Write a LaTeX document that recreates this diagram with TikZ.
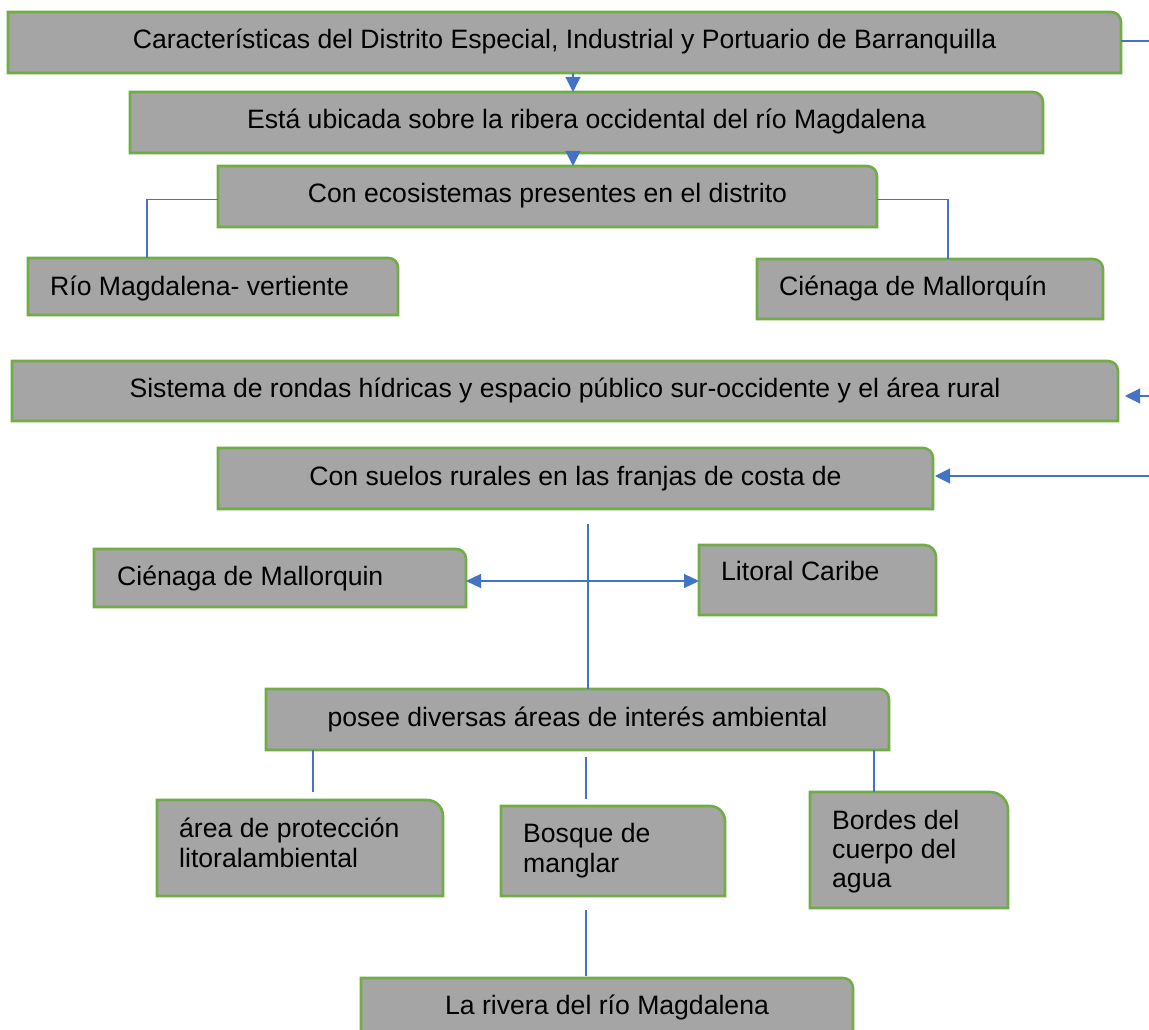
\documentclass[tikz,border=0pt]{standalone}
\usepackage{fontspec}
\setmainfont{Liberation Sans}
\usetikzlibrary{arrows.meta,backgrounds,calc}
\definecolor{boxgray}{HTML}{A5A5A5}
\definecolor{boxgreen}{HTML}{70AD47}
\definecolor{connblue}{HTML}{4472C4}
\newcommand\rshape[2]{%
  \path[boxshape] (#1.south west) -- (#1.north west) -- ([xshift=-#2pt]#1.north east)
    .. controls ([xshift=-0.45*#2pt]#1.north east) and ([yshift=-0.45*#2pt]#1.north east) ..
    ([yshift=-#2pt]#1.north east) -- (#1.south east) -- cycle;}
\tikzset{
  boxshape/.style={fill=boxgray, draw=boxgreen, line width=2.6pt},
  cbox/.style={rectangle, inner sep=0pt, outer sep=0pt, anchor=north west, text height=19pt, text depth=6pt},
  lbox/.style={rectangle, inner sep=0pt, outer sep=0pt, anchor=north west},
  btext/.style={inner sep=0pt, anchor=base west},
  conn/.style={draw=connblue, line width=1.1pt},
  arr/.style={conn, -{Triangle[length=15pt,width=15pt]}},
  darr/.style={conn, {Triangle[length=15pt,width=14pt]}-{Triangle[length=15pt,width=14pt]}},
}
\begin{document}
\begin{tikzpicture}[x=1pt, y=1pt, font=\fontsize{26.6}{30}\selectfont]
\useasboundingbox (0,0) rectangle (1149,-1030);
% boxes
\node[cbox, minimum width=1113pt, minimum height=61pt] (b1) at (8,-12) {Características del Distrito Especial, Industrial y Portuario de Barranquilla};
\node[cbox, minimum width=913pt, minimum height=61pt] (b2) at (130,-92) {Está ubicada sobre la ribera occidental del río Magdalena};
\node[cbox, minimum width=659pt, minimum height=61pt] (b3) at (218,-166) {Con ecosistemas presentes en el distrito};
\node[lbox, minimum width=370pt, minimum height=57pt] (rio) at (28,-258) {};
\node[btext] (riot) at (50,-295) {Río Magdalena- vertiente};
\node[lbox, minimum width=346pt, minimum height=60pt] (cien1) at (757,-259) {};
\node[btext] (cien1t) at (779,-295) {Ciénaga de Mallorquín};
\node[cbox, minimum width=1106pt, minimum height=60pt] (sis) at (12,-361) {Sistema de rondas hídricas y espacio público sur-occidente y el área rural};
\node[cbox, minimum width=715pt, minimum height=61pt] (suelos) at (218,-448) {Con suelos rurales en las franjas de costa de};
\node[lbox, minimum width=372pt, minimum height=58pt] (cien2) at (94,-549) {};
\node[btext] (cien2t) at (117,-585) {Ciénaga de Mallorquin};
\node[lbox, minimum width=237pt, minimum height=70pt] (lit) at (699,-545) {};
\node[btext] (litt) at (721,-580) {Litoral Caribe};
\node[cbox, minimum width=623pt, minimum height=61pt] (posee) at (266,-689) {posee diversas áreas de interés ambiental};
\node[lbox, minimum width=286pt, minimum height=96pt] (area) at (157,-800) {};
\node[btext] (areat) at (179,-837) {\begin{tabular}[t]{@{}l@{}}área de protección\\litoralambiental\end{tabular}};
\node[lbox, minimum width=224pt, minimum height=90pt] (bosque) at (501,-806) {};
\node[btext] (bosquet) at (523,-842) {\begin{tabular}[t]{@{}l@{}}Bosque de\\manglar\end{tabular}};
\node[lbox, minimum width=198pt, minimum height=116pt] (bordes) at (810,-792) {};
\node[btext] (bordest) at (832,-829) {\fontsize{26.6}{29}\selectfont\begin{tabular}[t]{@{}l@{}}Bordes del\\cuerpo del\\agua\end{tabular}};
\node[cbox, minimum width=492pt, minimum height=60pt] (rivera) at (361,-978) {La rivera del río Magdalena};
\begin{scope}[on background layer]
  \fill[white] (0,0) rectangle (1149,-1030);
  \rshape{b1}{10}
  \rshape{b2}{10}
  \rshape{b3}{10}
  \rshape{rio}{9.5}
  \rshape{cien1}{10}
  \rshape{sis}{10}
  \rshape{suelos}{10}
  \rshape{cien2}{9.7}
  \rshape{lit}{11.7}
  \rshape{posee}{10}
  \rshape{area}{16}
  \rshape{bosque}{15}
  \rshape{bordes}{18}
  \rshape{rivera}{10}
\end{scope}
% connectors
\coordinate (ax) at (573,0);
\draw[arr] (b1.south -| ax) -- (b2.north -| ax);
\draw[arr] (b2.south -| ax) -- (b3.north -| ax);
\draw[conn] ([yshift=-3pt]b3.west) -| ([xshift=-66pt]rio.north);
\draw[conn] ([yshift=-3pt]b3.east) -| ([xshift=18pt]cien1.north);
\coordinate (e1) at (1149,-41);
\draw[conn] (b1.east |- e1) -- (e1);
\coordinate (e2) at (1149,-396);
\draw[arr] (e2) -- ($(sis.east |- e2)+(7,0)$);
\coordinate (e3) at (1149,-476);
\draw[arr] (e3) -- ($(suelos.east |- e3)+(2,0)$);
\coordinate (vtop) at (588,-524);
\draw[conn] (vtop) -- (posee.north -| vtop);
\coordinate (ly) at (0,-581);
\draw[darr] (cien2.east |- ly) -- (lit.west |- ly);
\coordinate (xa) at (313,0);
\coordinate (xb) at (586,0);
\coordinate (xc) at (874,0);
\draw[conn, shorten >=8pt] (posee.south -| xa) -- (area.north -| xa);
\draw[conn, shorten <=7pt, shorten >=7pt] (posee.south -| xb) -- (bosque.north -| xb);
\draw[conn] (posee.south -| xc) -- (bordes.north -| xc);
\draw[conn, shorten <=14pt, shorten >=2pt] (bosque.south -| xb) -- (rivera.north -| xb);
\end{tikzpicture}
\end{document}
